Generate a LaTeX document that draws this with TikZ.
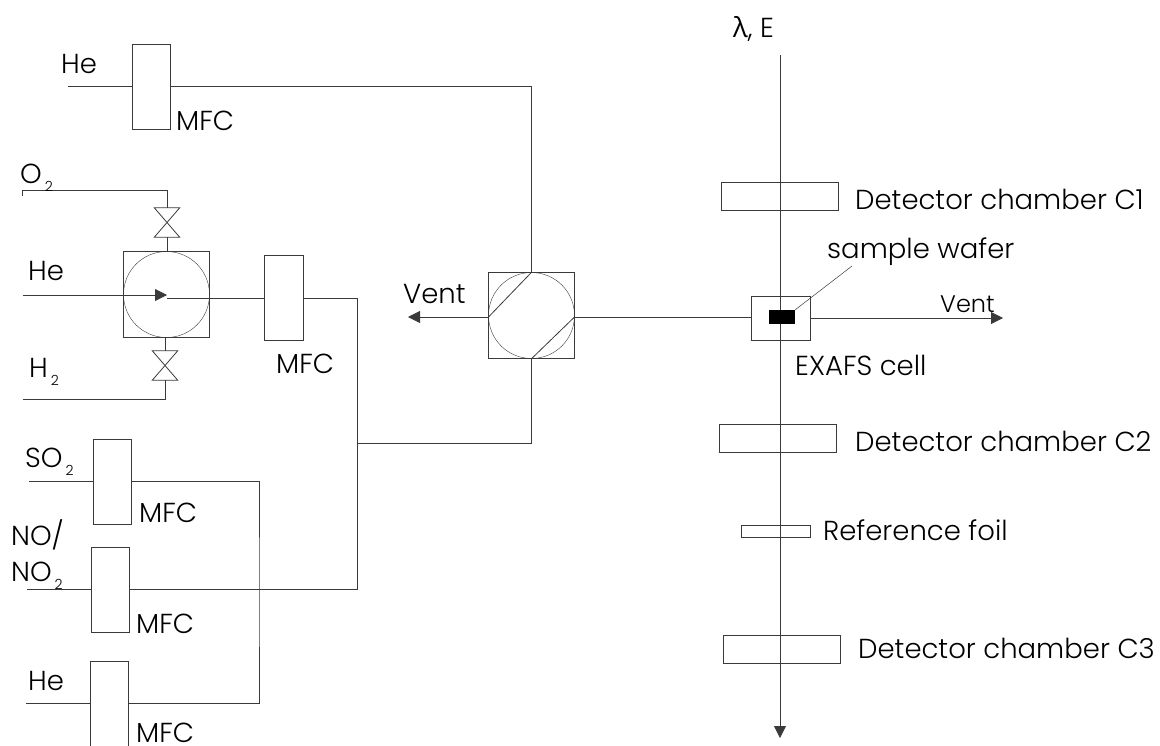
\documentclass[tikz,border=0pt]{standalone}
\usepackage{fontspec}
\setmainfont{Poppins}[UprightFont=* Light]
\newfontfamily\grk{Open Sans}
\usetikzlibrary{
  positioning,
  arrows.meta
}
\definecolor{pipe}{HTML}{3A3A3A}
\newcommand{\subtwo}{\kern3pt\raisebox{-8pt}{\fontsize{14}{14}\selectfont 2}}
\begin{document}
\begin{tikzpicture}[
  x=1pt, y=-1pt,
  mfc/.style={draw=pipe, minimum width=38.5pt, minimum height=85pt, inner sep=0pt},
  det/.style={draw=pipe, minimum width=117pt, minimum height=28pt, inner sep=0pt},
  vbox/.style={draw=pipe, minimum size=86pt, inner sep=0pt},
  vcirc/.style={draw=pipe, circle, minimum size=86pt, inner sep=0pt},
  bow/.style={minimum width=25pt, minimum height=29pt, inner sep=0pt},
  tag/.style={font=\fontsize{27.5}{30}\selectfont, inner sep=0pt, anchor=base west},
  line/.style={draw=pipe, line width=0.8pt},
  arr/.style={line, -{Triangle[length=12pt, width=12pt]}}
]
  \useasboundingbox (0,0) rectangle (1160,745);
  \clip (0,0) rectangle (1160,745);

  % mass flow controllers
  \node[mfc] (mfcTop) at (151,86.5) {};
  \node[mfc] (mfcMix) at (283.5,298) {};
  \node[mfc] (mfcSO) at (112,481.5) {};
  \node[mfc] (mfcNO) at (110,589.5) {};
  \node[mfc] (mfcHe) at (109,703.5) {};

  % inlet valve
  \node[vbox] (selBox) at (166.5,294.5) {};
  \node[vcirc] (selCirc) at (166.5,294.5) {};
  \node[bow] (valveO) at (167,222.5) {};
  \node[bow] (valveH) at (165,365.5) {};
  \foreach \v in {valveO,valveH}
    \draw[line] (\v.north west) -- (\v.north east) -- (\v.south west) -- (\v.south east) -- cycle;
  \coordinate (selMid) at (167,295);
  \coordinate (selOut) at (167,298);

  % switching valve
  \node[vbox] (swBox) at (531.5,315.5) {};
  \node[vcirc] (swCirc) at (531.5,315.5) {};
  \coordinate (swLeft) at (488.5,317);
  \coordinate (swRight) at (574.5,317);
  \draw[line] (swLeft) -- (swCirc.north);
  \draw[line] (swCirc.south) -- (swRight);

  % beam line elements
  \node[draw=pipe, minimum width=59pt, minimum height=44pt, inner sep=0pt] (cell) at (780.5,318) {};
  \node[det] (detA) at (779.5,196) {};
  \node[det] (detB) at (777.5,438) {};
  \node[draw=pipe, minimum width=69pt, minimum height=12pt, inner sep=0pt] (foil) at (775.5,531) {};
  \node[det] (detC) at (782,649) {};

  % free ends
  \coordinate (heTop) at (68,86.5);
  \coordinate (o2End) at (22,196);
  \coordinate (o2Bend) at (167,190);
  \coordinate (heIn) at (23,295);
  \coordinate (h2End) at (23,399);
  \coordinate (soEnd) at (29,481.5);
  \coordinate (noEnd) at (27,589.5);
  \coordinate (heEnd) at (26,703.5);
  \coordinate (ventL) at (408,317);
  \coordinate (ventR) at (1003,318);
  \coordinate (beamTop) at (780,55);
  \coordinate (beamEnd) at (780,738);
  \coordinate (leader) at (852,266);
  \coordinate (joinA) at (357,443);
  \coordinate (joinB) at (259,592);

  % gas lines
  \draw[line] (heTop) -- (mfcTop.west);
  \draw[line] (mfcTop.east) -| (swCirc.north);
  \draw[line] (o2End) |- (o2Bend) -- (valveO.north);
  \draw[line] (valveO.south) -- (valveO.south |- selBox.north);
  \draw[arr] (heIn) -- (selMid);
  \draw[line] (valveH.north) -- (valveH.north |- selBox.south);
  \draw[line] (valveH.south) |- (h2End);
  \draw[line] (selOut) -- (mfcMix.west);
  \draw[line] (mfcMix.east) -| (joinA);
  \draw[line] (joinA) -| (swCirc.south);
  \draw[line] (soEnd) -- (mfcSO.west);
  \draw[line] (noEnd) -- (mfcNO.west);
  \draw[line] (heEnd) -- (mfcHe.west);
  \draw[line] (mfcNO.east) -| (joinA);
  \draw[line] (mfcSO.east) -| (joinB) |- (mfcHe.east);
  \draw[arr] (swLeft) -- (ventL);
  \draw[line] (swRight) -- (swRight -| cell.west);
  \draw[arr] (cell.east) -- (ventR);
  \draw[arr] (beamTop) -- (beamEnd);

  % sample sits on top of the beam line
  \node[fill=black, minimum width=26pt, minimum height=14pt, inner sep=0pt] (wafer) at (782,317) {};
  \draw[line, line width=0.5pt] (wafer.north east) -- (leader);

  % labels
  \node[tag] (lblHeTop) at (61,73) {He};
  \node[tag] (lblMfcTop) at (176,130) {MFC};
  \node[tag] (lblO) at (20,183) {O\subtwo};
  \node[tag] (lblHe) at (28,280) {He};
  \node[tag] (lblH) at (29,377) {H\subtwo};
  \node[tag] (lblMfcMix) at (276,373) {MFC};
  \node[tag] (lblSO) at (25,467) {SO\subtwo};
  \node[tag] (lblMfcSO) at (139,522) {MFC};
  \node[tag] (lblNOa) at (11,545) {NO/};
  \node[tag] (lblNOb) at (11,581) {NO\subtwo};
  \node[tag] (lblMfcNO) at (136,633) {MFC};
  \node[tag] (lblHeLow) at (28,690) {He};
  \node[tag] (lblMfcHe) at (136,742) {MFC};
  \node[tag] (lblVentL) at (403,303) {Vent};
  \node[tag, font=\fontsize{24}{26}\selectfont] (lblVentR) at (940,312) {Vent};
  \node[tag] (lblBeam) at (733,37) {{\grk λ}, E};
  \node[tag] (lblDetA) at (855,209) {Detector chamber C1};
  \node[tag] (lblWafer) at (827,258) {sample wafer};
  \node[tag] (lblCell) at (795,375) {EXAFS cell};
  \node[tag] (lblDetB) at (855,451) {Detector chamber C2};
  \node[tag] (lblFoil) at (823,540) {Reference foil};
  \node[tag] (lblDetC) at (858,658) {Detector chamber C3};
\end{tikzpicture}
\end{document}
